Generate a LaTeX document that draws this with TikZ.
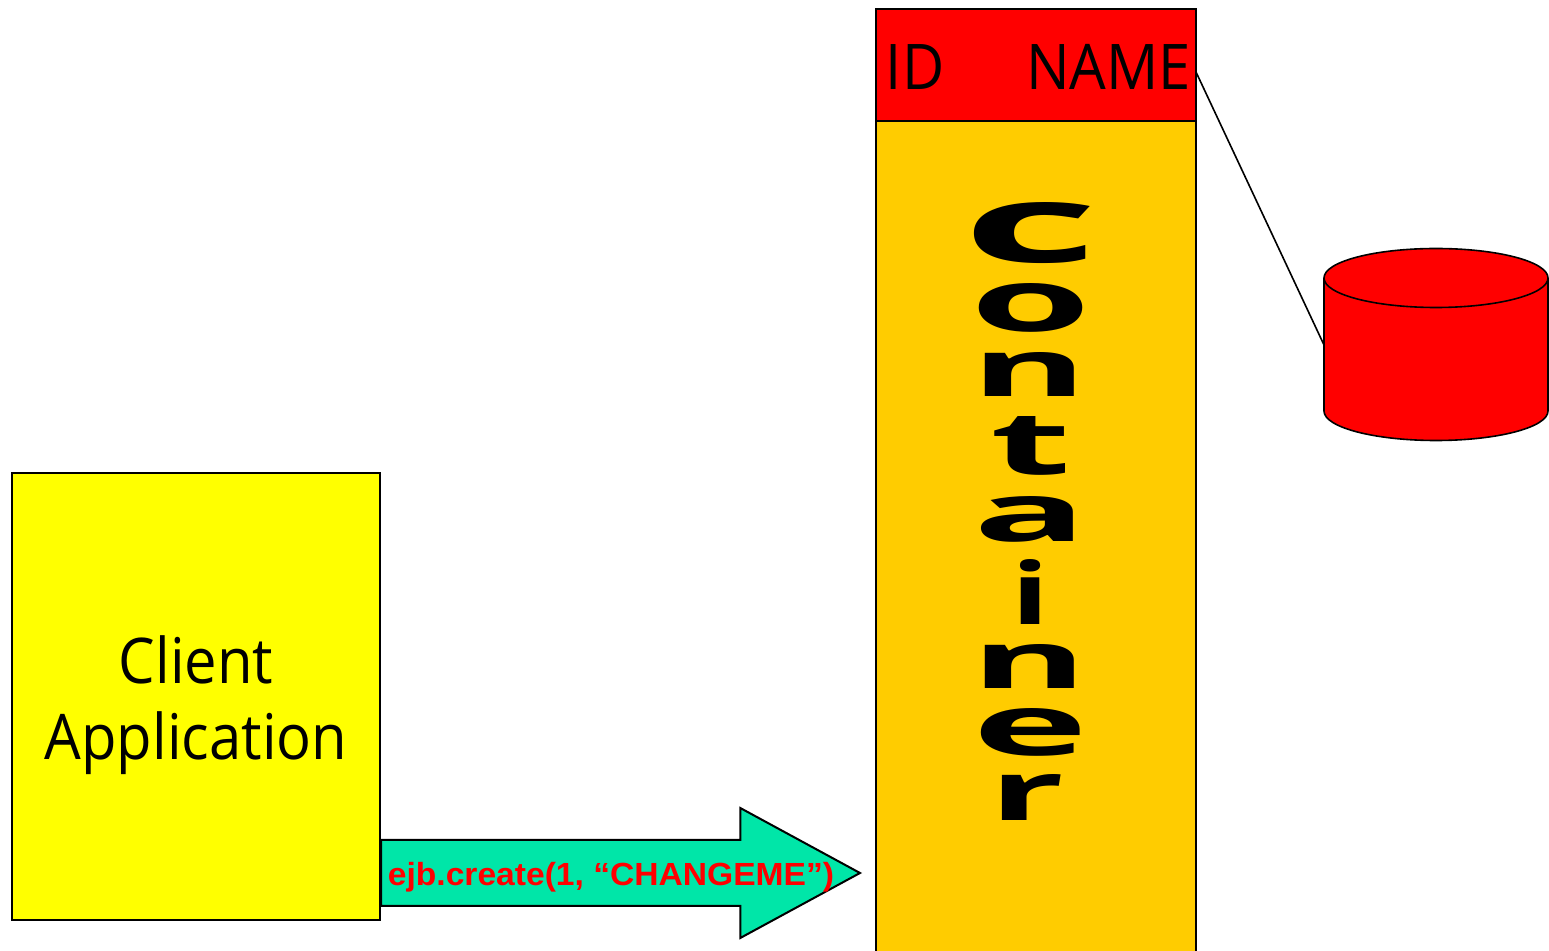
\documentclass[tikz,border=0pt]{standalone}
\usepackage{fontspec}
\usepackage{graphicx}
\setmainfont{Open Sans}
\newfontfamily\labelfont[FakeStretch=0.92]{Open Sans}
\newfontfamily\callfont[FakeStretch=1.05]{Liberation Sans Bold}
\newfontfamily\letterfont{Open Sans}
\usetikzlibrary{shapes.arrows}
\definecolor{clientyellow}{HTML}{FFFF00}
\definecolor{tablered}{HTML}{FF0000}
\definecolor{containergold}{HTML}{FFCC00}
\definecolor{callgreen}{HTML}{00E6A8}
\newcommand{\stretchletter}[3]{\resizebox{#1pt}{#2pt}{\letterfont\bfseries #3}}
\tikzset{
  boxnode/.style={draw=black,line width=1pt,shape=rectangle,inner sep=0pt},
  biglabel/.style={font=\labelfont\fontsize{31.5}{38}\selectfont,text=black,align=center,inner sep=0pt},
  letternode/.style={inner sep=0pt,text=black},
}
\begin{document}
\begin{tikzpicture}[x=0.5pt,y=-0.5pt]
    \clip (0,0) rectangle (1549,951);
    \node[single arrow,draw=black,line width=1pt,fill=callgreen,inner xsep=0pt,inner ysep=16pt,minimum width=63.5pt,minimum height=239.5pt,single arrow head extend=16pt,single arrow tip angle=57,anchor=tail] (callarrow) at (380,873) {};
    \node[boxnode,fill=clientyellow,minimum width=184pt,minimum height=223.5pt] (client) at (196,696.5) {};
    \node[biglabel] (clientlabel) at (196,705) {Client\\Application};
    \node[boxnode,fill=containergold,minimum width=160pt,minimum height=440pt] (container) at (1036,561) {};
    \node[boxnode,fill=tablered,minimum width=160pt,minimum height=56pt] (tablerow) at (1036,65) {};
    \node[biglabel] (tablelabel) at (1038.5,67) {ID\hspace{41pt}NAME};
    \filldraw[line width=0.8pt,fill=tablered] (1324,278) arc (180:360:112 and 29.5) -- (1548,411) arc (0:180:112 and 29.5) -- cycle;
    \draw[line width=0.8pt] (1324,278) arc (180:0:112 and 29.5);
    \coordinate (tableport) at (1196,72);
    \coordinate (databaseport) at (1324,345);
    \draw[line width=0.8pt] (tableport) -- (databaseport);
    \node[font=\callfont\fontsize{16}{18}\selectfont,text=tablered,inner sep=0pt] (calllabel) at (611,877) {ejb.create(1, “CHANGEME”)};
    \node[letternode] (letterc) at (1030.5,233) {\stretchletter{68}{30}{c}};
    \node[letternode] (lettero) at (1031,308) {\stretchletter{60.5}{24}{o}};
    \node[letternode] (lettern) at (1030,374) {\stretchletter{58}{22}{n}};
    \node[letternode] (lettert) at (1031,446) {\stretchletter{40.5}{29}{t}};
    \node[letternode] (lettera) at (1031,519.5) {\stretchletter{57}{22.5}{a}};
    \node[letternode] (letteri) at (1030,592.5) {\stretchletter{19}{32.5}{i}};
    \node[letternode] (letterna) at (1030,666) {\stretchletter{58}{22}{n}};
    \node[letternode] (lettere) at (1031,732.5) {\stretchletter{58}{23.5}{e}};
    \node[letternode] (letterr) at (1027,797) {\stretchletter{37.5}{23}{r}};
  \end{tikzpicture}
\end{document}
